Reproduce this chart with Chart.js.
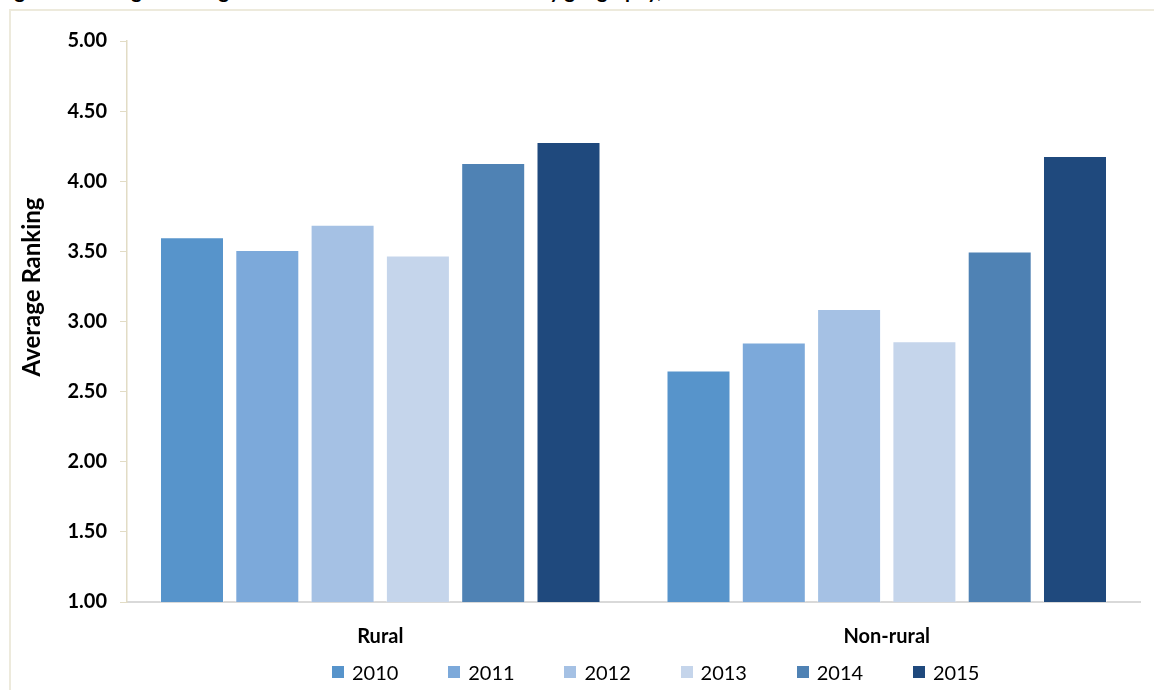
<!DOCTYPE html>
<html>
<head>
<meta charset="utf-8">
<script src="https://cdn.jsdelivr.net/npm/chart.js@4/dist/chart.umd.min.js"></script>
<style>
  html, body { margin: 0; padding: 0; background: #fff; overflow: hidden; }
  body { width: 1154px; height: 690px; position: relative; font-family: Lato, "Open Sans", sans-serif; }
  #caption {
    position: absolute; left: -2px; top: -20px; white-space: nowrap;
    font: bold 20px/20px Lato, sans-serif; color: #000;
  }
  #frame {
    position: absolute; left: 9px; top: 9px; width: 1289px; height: 700px;
    border: 2px solid #EDEADC; background: #fff;
  }
  #chartBox { position: absolute; left: 0; top: 0; width: 1289px; height: 680px; }
  #legend {
    position: absolute; left: 321px; top: 649px; display: flex; align-items: center;
    font: 20px Lato, sans-serif; color: #000;
  }
  #legend .item { display: flex; align-items: center; width: 116.2px; }
  #legend .swatch { width: 12px; height: 12px; margin-right: 8px; }
</style>
</head>
<body>
<div id="caption">Figure 6: Average Ranking of Broadband Service Satisfaction by geography, 2010–2015</div>
<div id="frame">
  <div id="chartBox"><canvas id="rankingChart"></canvas></div>
  <div id="legend"></div>
</div>
<script>
// Average ranking by area type, one series per survey year
const categories = ['Rural', 'Non-rural'];
const years = ['2010', '2011', '2012', '2013', '2014', '2015'];
const ranking2010 = [3.60, 2.65];
const ranking2011 = [3.51, 2.85];
const ranking2012 = [3.69, 3.09];
const ranking2013 = [3.47, 2.86];
const ranking2014 = [4.13, 3.50];
const ranking2015 = [4.28, 4.18];
const yearColors = ['#5794CB', '#7CA9DA', '#A5C1E4', '#C5D5EB', '#4F82B4', '#1F497D'];
const yTicks = [1.00, 1.50, 2.00, 2.50, 3.00, 3.50, 4.00, 4.50, 5.00];

const seriesValues = [ranking2010, ranking2011, ranking2012, ranking2013, ranking2014, ranking2015];

const datasets = years.map((year, i) => ({
  label: year,
  data: seriesValues[i],
  backgroundColor: yearColors[i],
  borderColor: 'rgba(255,255,255,0.35)',
  borderWidth: 1,
  categoryPercentage: 0.892,
  barPercentage: 0.85
}));

// vertical axis title, placed a bit above the middle of the axis
const axisTitle = {
  id: 'axisTitle',
  afterDraw(chart) {
    const { ctx, chartArea } = chart;
    ctx.save();
    ctx.translate(chartArea.left - 95, chartArea.top + 246);
    ctx.rotate(-Math.PI / 2);
    ctx.font = 'bold 24px Lato, sans-serif';
    ctx.fillStyle = '#000';
    ctx.textAlign = 'center';
    ctx.textBaseline = 'middle';
    ctx.fillText('Average Ranking', 0, 0);
    ctx.restore();
  }
};

const ctx = document.getElementById('rankingChart').getContext('2d');

const rankingChart = new Chart(ctx, {
  type: 'bar',
  data: {
    labels: categories,
    datasets: datasets
  },
  plugins: [axisTitle],
  options: {
    responsive: true,
    maintainAspectRatio: false,
    animation: false,
    layout: {
      padding: { top: 30, right: 160, bottom: 19, left: 0 }
    },
    plugins: {
      legend: { display: false },
      tooltip: { enabled: false }
    },
    scales: {
      x: {
        grid: { display: false },
        border: { display: true, color: '#D9D9D9', width: 2 },
        ticks: {
          color: '#000',
          font: { family: 'Lato', size: 20, weight: 'bold' },
          padding: 15
        },
        afterFit: scale => { scale.height = 70; }
      },
      y: {
        min: 1,
        max: 5,
        afterBuildTicks: scale => { scale.ticks = yTicks.map(v => ({ value: v })); },
        grid: {
          drawOnChartArea: false,
          color: '#E2DCC5',
          tickLength: 7
        },
        border: { display: true, color: '#E2DCC5', width: 1.5 },
        ticks: {
          color: '#000',
          font: { family: 'Lato', size: 20, weight: 'bold' },
          padding: 13,
          callback: value => Number(value).toFixed(2)
        },
        afterFit: scale => { scale.width = 116; }
      }
    }
  }
});

// legend row under the category labels
let html = '';
years.forEach((year, i) => {
  html += `<div class="item"><span class="swatch" style="background:${ yearColors[i] }"></span>${ year }</div>`;
});
document.getElementById('legend').innerHTML = html;
</script>
</body>
</html>
